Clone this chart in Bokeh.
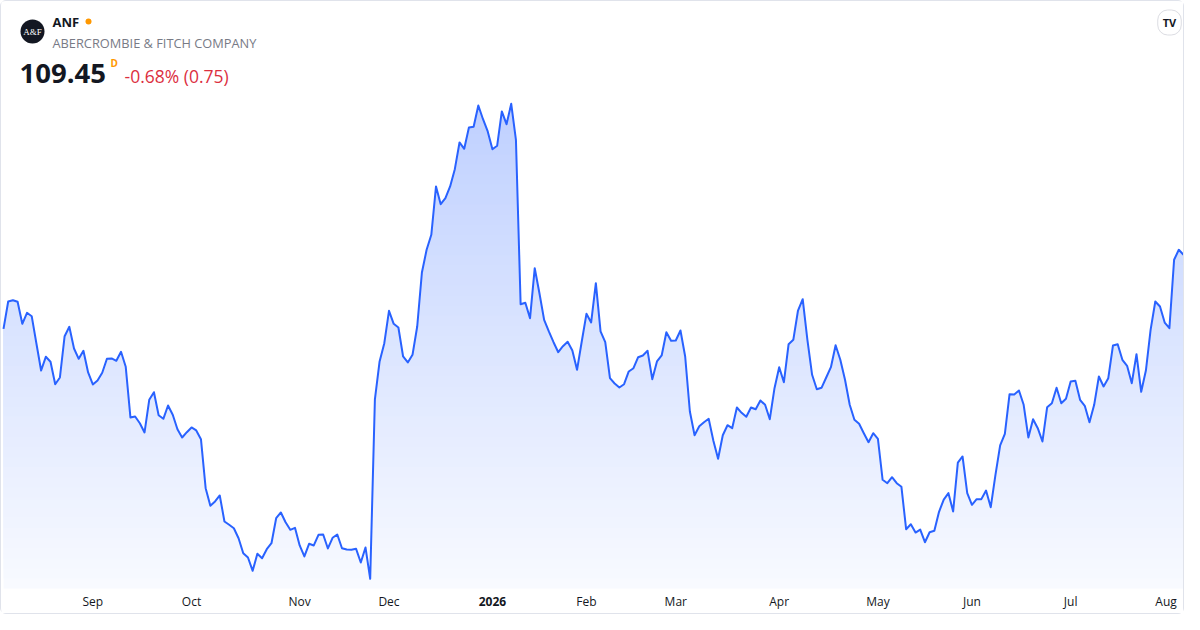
import numpy as np
import pandas as pd
from bokeh.plotting import figure
from bokeh.models import Range1d, Label, ColumnDataSource
from bokeh.core.properties import value
from bokeh.embed import file_html
from bokeh.resources import INLINE

# ---------------- data ----------------
SYMBOL = "ANF"
COMPANY = "ABERCROMBIE & FITCH COMPANY"
LAST_PRICE = "109.45"
CHANGE_TEXT = "-0.68% (0.75)"
START_DATE = "2025-08-05"
HOLIDAYS = ["2025-09-01", "2025-11-27", "2025-12-25", "2026-01-01", "2026-01-19",
            "2026-02-16", "2026-04-03", "2026-05-25", "2026-06-19", "2026-07-03"]

close = [
    98.35, 102.45, 102.64, 102.40, 99.10, 100.75, 100.24, 96.15, 92.10, 94.15,
    93.40, 90.04, 91.05, 97.24, 98.65, 95.40, 93.85, 95.05, 91.80, 90.00,
    90.60, 91.75, 93.85, 93.90, 93.55, 94.90, 92.65, 85.05, 85.20, 84.19,
    82.80, 87.70, 88.84, 85.39, 84.85, 86.85, 85.45, 83.29, 82.05, 82.84,
    83.55, 83.10, 81.79, 74.44, 71.80, 72.45, 73.35, 69.45, 68.95, 68.44,
    66.94, 64.69, 64.05, 62.05, 64.60, 63.94, 65.29, 66.19, 69.94, 70.80,
    69.34, 68.20, 68.50, 65.85, 64.20, 66.10, 65.85, 67.45, 67.50, 65.40,
    67.00, 67.50, 65.44, 65.24, 65.20, 65.35, 63.30, 65.55, 60.85, 87.75,
    93.45, 96.19, 101.05, 99.10, 98.55, 94.20, 93.30, 94.45, 98.70, 106.80,
    110.20, 112.45, 119.70, 117.04, 117.94, 119.70, 122.29, 126.30, 125.35, 128.55,
    128.65, 131.85, 129.79, 127.95, 125.29, 125.80, 130.95, 129.04, 132.10, 126.70,
    102.04, 102.25, 99.94, 107.44, 103.69, 99.70, 97.95, 96.34, 94.84, 95.74,
    96.40, 95.10, 92.20, 96.45, 100.60, 99.30, 105.19, 97.95, 96.34, 90.94,
    90.15, 89.55, 90.04, 91.95, 92.44, 94.09, 94.35, 95.05, 90.79, 93.45,
    94.35, 97.84, 96.55, 96.60, 98.10, 94.20, 85.95, 82.39, 83.74, 84.34,
    84.85, 81.55, 78.85, 82.39, 83.89, 83.44, 86.55, 85.75, 85.15, 86.55,
    86.29, 87.60, 86.95, 84.79, 89.44, 92.59, 90.34, 96.04, 96.70, 101.09,
    102.79, 96.70, 91.45, 89.29, 89.50, 91.05, 92.59, 95.89, 93.70, 90.70,
    86.95, 84.70, 84.10, 82.69, 81.34, 82.69, 81.85, 75.70, 75.19, 76.09,
    75.19, 74.65, 68.29, 69.04, 67.79, 68.24, 66.34, 67.84, 68.05, 70.90,
    72.74, 73.70, 70.95, 78.29, 79.20, 73.70, 71.95, 72.79, 72.80, 74.09,
    71.59, 76.45, 80.85, 82.60, 88.54, 88.50, 89.10, 86.95, 82.05, 84.79,
    83.44, 81.45, 86.59, 87.19, 89.50, 87.19, 87.85, 90.45, 90.55, 87.70,
    86.80, 84.34, 86.95, 91.19, 89.70, 90.94, 95.85, 96.04, 93.70, 92.80,
    90.19, 94.54, 88.90, 92.09, 98.20, 102.45, 101.69, 99.29, 98.44, 108.70,
    110.20, 109.45,
]

# trading days (no gaps on the axis, TradingView style)
_bd = pd.bdate_range(START_DATE, periods=len(close) + len(HOLIDAYS))
dates = [d for d in _bd if d.strftime("%Y-%m-%d") not in HOLIDAYS][:len(close)]
N = len(close)
idx = np.arange(N)
price = np.array(close, dtype=float)

tick_idx = [i for i in range(1, N) if dates[i].month != dates[i - 1].month]
tick_lab = [dates[i].strftime("%Y") if dates[i].month == 1 else dates[i].strftime("%b") for i in tick_idx]

# ---------------- layout constants (figure pixels) ----------------
W, H = 1184, 614
PX_PER_BAR = 1180 / (N - 1)
X0, X1 = -2 / PX_PER_BAR, (N - 1) + 2 / PX_PER_BAR
Y1 = 147.445                 # value at the top edge
Y0 = Y1 - 0.15 * H           # value at the bottom edge

def X(px):
    return X0 + px * (X1 - X0) / W

def Y(py):
    return Y1 - py * (Y1 - Y0) / H

FILL_BOTTOM = Y(587)
LABEL_Y = Y(600)
FONT = "Open Sans"
LINE = "#2962ff"
TEXT = "#131722"

p = figure(width=W, height=H, output_backend="svg", toolbar_location=None,
           x_range=Range1d(X0, X1), y_range=Range1d(Y0, Y1),
           x_axis_location=None, y_axis_location=None,
           min_border_left=0, min_border_right=0, min_border_top=0, min_border_bottom=0,
           background_fill_color="white", border_fill_color="white")
p.styles = {"border": "1px solid #e0e3eb", "border-radius": "6px"}
p.outline_line_color = None
p.xgrid.visible = False
p.ygrid.visible = False

# ---------------- gradient area ----------------
levels = list(np.linspace(FILL_BOTTOM, price.max(), 49)[:-1])

def refine(xs, ys, lv):
    rx, ry = [xs[0]], [ys[0]]
    for i in range(len(xs) - 1):
        xa, xb, ya, yb = xs[i], xs[i + 1], ys[i], ys[i + 1]
        if ya != yb:
            lo, hi = min(ya, yb), max(ya, yb)
            ts = sorted((L - ya) / (yb - ya) for L in lv if lo < L < hi)
            for t in ts:
                rx.append(xa + t * (xb - xa))
                ry.append(ya + t * (yb - ya))
        rx.append(xb)
        ry.append(yb)
    return np.array(rx), np.array(ry)

rx, ry = refine(idx.astype(float), price, levels)
step = levels[1] - levels[0]
for L in levels:
    mid = L + step / 2
    py = (Y1 - mid) / (Y1 - Y0) * H
    a = 0.30 - 0.27 * (py - 100) / 490
    a = min(max(a, 0.025), 0.32)
    r = int(round(255 - a * (255 - 41)))
    g = int(round(255 - a * (255 - 98)))
    col = "#%02x%02x%02x" % (r, g, 255)
    p.varea(x=rx, y1=np.full_like(rx, L), y2=np.maximum(ry, L), fill_color=col, fill_alpha=1.0)

p.line(idx, price, line_color=LINE, line_width=2, line_join="round")

# ---------------- time axis labels ----------------
def _offset(i):
    # keep a label that would run past the right edge inside the card
    return -8 if (i - X0) / (X1 - X0) * W > W - 20 else 0

m_pairs = [(i, l) for i, l in zip(tick_idx, tick_lab) if not l.isdigit()]
y_pairs = [(i, l) for i, l in zip(tick_idx, tick_lab) if l.isdigit()]
month_src = ColumnDataSource(dict(
    x=[i for i, _ in m_pairs], y=[LABEL_Y] * len(m_pairs), t=[l for _, l in m_pairs],
    dx=[_offset(i) for i, _ in m_pairs]))
year_src = ColumnDataSource(dict(
    x=[i for i, _ in y_pairs], y=[LABEL_Y] * len(y_pairs), t=[l for _, l in y_pairs],
    dx=[_offset(i) for i, _ in y_pairs]))
p.text(x="x", y="y", text="t", x_offset="dx", source=month_src, text_align="center",
       text_baseline="middle", text_font=value(FONT), text_font_size="12px", text_color=TEXT)
p.text(x="x", y="y", text="t", x_offset="dx", source=year_src, text_align="center",
       text_baseline="middle", text_font=value(FONT), text_font_size="12px",
       text_font_style="bold", text_color=TEXT)

# ---------------- header ----------------
p.scatter(x=[X(31)], y=[Y(30)], size=24, marker="circle", fill_color=TEXT, line_color=None)
p.add_layout(Label(x=X(31), y=Y(30.5), text="A&F", text_align="center", text_baseline="middle",
                   text_font="Liberation Serif", text_font_size="9px", text_color="white"))
p.add_layout(Label(x=X(51), y=Y(20), text=SYMBOL, text_align="left", text_baseline="middle",
                   text_font=FONT, text_font_size="13px", text_font_style="bold", text_color=TEXT))
p.scatter(x=[X(87)], y=[Y(20)], size=6, marker="circle", fill_color="#ff9800", line_color=None)
p.add_layout(Label(x=X(51), y=Y(41), text=COMPANY, text_align="left", text_baseline="middle",
                   text_font=FONT, text_font_size="12.8px", text_color="#787b86"))
p.add_layout(Label(x=X(18), y=Y(72), text=LAST_PRICE, text_align="left", text_baseline="middle",
                   text_font=FONT, text_font_size="27.5px", text_font_style="bold", text_color=TEXT))
p.add_layout(Label(x=X(109), y=Y(61), text="D", text_align="left", text_baseline="middle",
                   text_font=FONT, text_font_size="10px", text_font_style="bold", text_color="#ff9800"))
p.add_layout(Label(x=X(123), y=Y(74), text=CHANGE_TEXT, text_align="left", text_baseline="middle",
                   text_font=FONT, text_font_size="17.5px", text_color="#dc2f3f"))
p.add_layout(Label(x=X(1168), y=Y(21), text="TV", text_align="center", text_baseline="middle",
                   text_font=FONT, text_font_size="11px", text_font_style="bold", text_color=TEXT,
                   background_fill_color="white", border_line_color="#dcdde3",
                   padding=5, border_radius=10))

open("out.html", "w").write(file_html(p, INLINE))
